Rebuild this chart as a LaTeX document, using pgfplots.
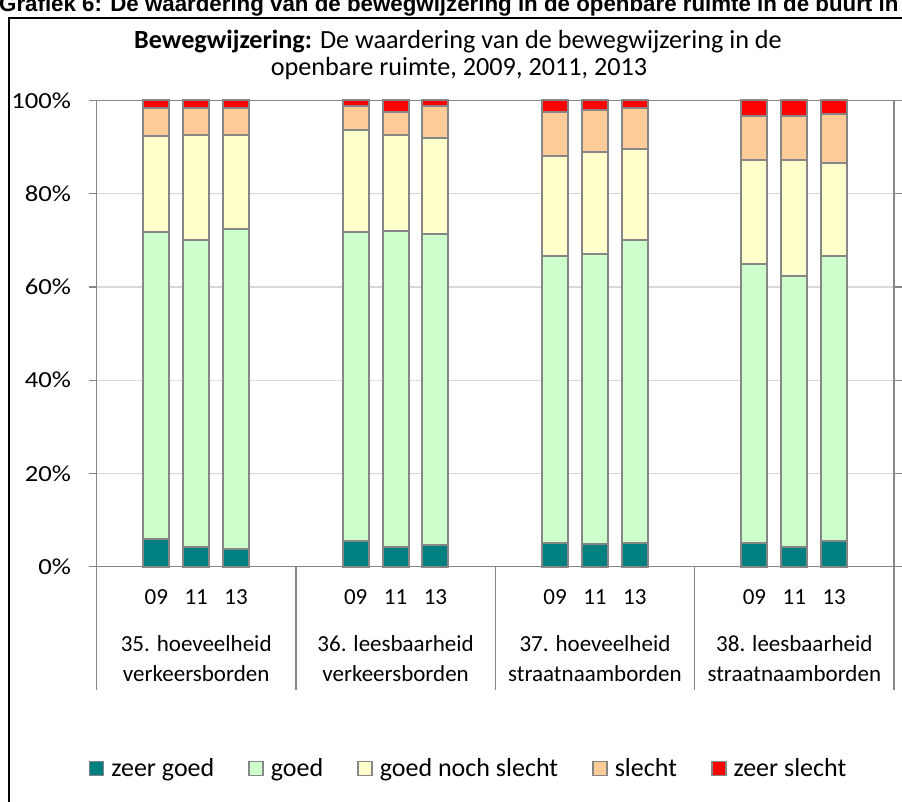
\documentclass[border=0pt]{standalone}
\usepackage{fontspec}
\setmainfont{Carlito}
\newfontfamily\arialfont{Liberation Sans}
\newfontfamily\tickfont[FakeStretch=1.16]{Carlito}
\usepackage{pgfplots}
\usepackage{pgfplotstable}
\pgfplotsset{compat=1.18}

\definecolor{zeergoed}{HTML}{008080}
\definecolor{goed}{HTML}{CCFFCC}
\definecolor{neutraal}{HTML}{FFFFCC}
\definecolor{slecht}{HTML}{FFCC99}
\definecolor{zeerslecht}{HTML}{FF0000}
\definecolor{randgrijs}{HTML}{868686}
\definecolor{rastergrijs}{HTML}{D9D9D9}

% percentages per jaar (09, 11, 13) per vraag; x = positie op de as
\pgfplotstableread{
x  zg  g    gns  s    zs
1  5.9 65.8 20.6 6.0  1.7
2  4.3 65.7 22.7 5.6  1.7
3  3.8 68.7 20.2 5.6  1.7
6  5.5 66.2 21.9 5.2  1.2
7  4.3 67.8 20.6 4.8  2.5
8  4.7 66.7 20.5 7.0  1.1
11 5.1 61.6 21.4 9.4  2.5
12 4.8 62.3 21.8 9.0  2.1
13 5.1 65.0 19.6 8.7  1.6
16 5.1 59.9 22.2 9.4  3.4
17 4.3 58.1 24.8 9.4  3.4
18 5.5 61.2 20.0 10.4 2.9
}\waardering

\newcommand{\labelfont}{\fontsize{23}{27}\selectfont}

\begin{document}
\begin{tikzpicture}
\useasboundingbox (0pt,0pt) rectangle (902pt,801pt);
\clip (0pt,0pt) rectangle (902pt,801pt);

% afgesneden bijschrift boven de grafiek
\node[anchor=base west, inner sep=0pt, font=\arialfont\bfseries\fontsize{22.3}{26}\selectfont]
  at (-1pt,789pt) {Grafiek 6: De waardering van de bewegwijzering in de openbare ruimte in de buurt in};
\draw[black, line width=1.3pt] (9pt,-10pt) -- (9pt,783pt) -- (915pt,783pt);

\node[anchor=base, inner sep=0pt, font=\fontsize{26.2}{30}\selectfont]
  at (458pt,752pt) {\textbf{Bewegwijzering:} De waardering van de bewegwijzering in de};
\node[anchor=base, inner sep=0pt, font=\fontsize{26.2}{30}\selectfont]
  at (459pt,725pt) {openbare ruimte, 2009, 2011, 2013};

\begin{axis}[
    at={(96.5pt,234.3pt)}, anchor=south west,
    width=797.5pt, height=466.2pt, scale only axis,
    xmin=-0.5, xmax=19.5, ymin=0, ymax=100,
    ybar stacked, bar width=26pt,
    clip=false,
    axis line style={randgrijs, line width=1.3pt},
    ymajorgrids, grid style={rastergrijs, line width=1.3pt},
    tick align=outside, major tick length=8pt,
    ytick={0,20,40,60,80,100},
    yticklabels={0\%,20\%,40\%,60\%,80\%,100\%},
    y tick style={randgrijs, line width=1.3pt},
    yticklabel style={font=\tickfont\fontsize{23}{27}\selectfont, inner sep=0pt, xshift=-17.3pt},
    xtick={1,2,3,6,7,8,11,12,13,16,17,18},
    xticklabels={09,11,13,09,11,13,09,11,13,09,11,13},
    x tick style={draw=none},
    xticklabel style={font=\labelfont, inner sep=0pt, anchor=base, yshift=-30pt},
    every axis plot/.append style={draw=randgrijs, line width=2pt},
    legend columns=5,
    legend style={at={(0.4665,-0.433)}, anchor=center, draw=none, fill=none,
      font=\fontsize{26}{30}\selectfont,
      /tikz/every odd column/.append style={column sep=5pt},
      /tikz/every even column/.append style={column sep=32pt}},
    legend image code/.code={\draw[#1, line width=1.6pt] (0pt,-7pt) rectangle (14pt,7pt);},
]
\addplot[fill=zeergoed] table[x=x, y=zg] {\waardering};
\addplot[fill=goed] table[x=x, y=g] {\waardering};
\addplot[fill=neutraal] table[x=x, y=gns] {\waardering};
\addplot[fill=slecht] table[x=x, y=s] {\waardering};
\addplot[fill=zeerslecht] table[x=x, y=zs] {\waardering};
\legend{zeer goed, goed, goed noch slecht, slecht, zeer slecht}

% scheidingslijnen van de categorie-as
\pgfplotsinvokeforeach{-0.5,4.5,9.5,14.5,19.5}{
  \draw[randgrijs, line width=1.3pt] (axis cs:#1,0) -- ++(0pt,-123pt);
}
\node[anchor=base, font=\labelfont] at ([yshift=-84.3pt]axis cs:2,0) {35. hoeveelheid};
\node[anchor=base, font=\labelfont] at ([yshift=-114.3pt]axis cs:2,0) {verkeersborden};
\node[anchor=base, font=\labelfont] at ([yshift=-84.3pt]axis cs:7,0) {36. leesbaarheid};
\node[anchor=base, font=\labelfont] at ([yshift=-114.3pt]axis cs:7,0) {verkeersborden};
\node[anchor=base, font=\labelfont] at ([yshift=-84.3pt]axis cs:12,0) {37. hoeveelheid};
\node[anchor=base, font=\labelfont] at ([yshift=-114.3pt]axis cs:12,0) {straatnaamborden};
\node[anchor=base, font=\labelfont] at ([yshift=-84.3pt]axis cs:17,0) {38. leesbaarheid};
\node[anchor=base, font=\labelfont] at ([yshift=-114.3pt]axis cs:17,0) {straatnaamborden};
\end{axis}
\end{tikzpicture}
\end{document}
